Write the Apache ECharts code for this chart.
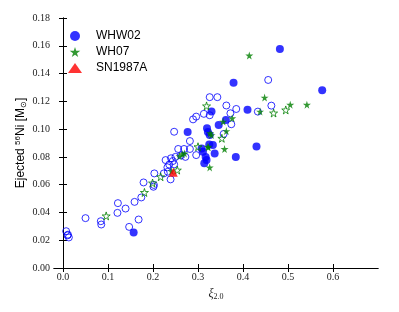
<!DOCTYPE html>
<html><head><meta charset="utf-8">
<script src="https://cdn.jsdelivr.net/npm/echarts@6/dist/echarts.min.js"></script>
<style>html,body{margin:0;padding:0;background:#fff}#c{width:399px;height:312px}</style>
</head><body><div id="c"></div>
<script>
const xTicks = [0, 0.1, 0.2, 0.3, 0.4, 0.5, 0.6];
const whw02Filled = [[0.157,0.0255],[0.277,0.098],[0.319,0.0777],[0.317,0.080],[0.311,0.0837],[0.308,0.0861],[0.333,0.0885],[0.337,0.0825],[0.322,0.098],[0.326,0.0957],[0.320,0.1006],[0.330,0.1126],[0.346,0.103],[0.362,0.1066],[0.384,0.080],[0.430,0.0875],[0.410,0.114],[0.379,0.1333],[0.482,0.1576],[0.576,0.128],[0.325,0.089],[0.314,0.0755]];
const whw02Open = [[0.007,0.0265],[0.010,0.0235],[0.013,0.022],[0.011,0.024],[0.050,0.0359],[0.084,0.0337],[0.085,0.0313],[0.122,0.0467],[0.121,0.0397],[0.139,0.0428],[0.147,0.0296],[0.168,0.0349],[0.159,0.0476],[0.174,0.0508],[0.179,0.0616],[0.201,0.0585],[0.202,0.0598],[0.203,0.0681],[0.224,0.0681],[0.228,0.0777],[0.232,0.0725],[0.236,0.0745],[0.239,0.0638],[0.233,0.0693],[0.240,0.0790],[0.244,0.0770],[0.247,0.0746],[0.256,0.0857],[0.269,0.0857],[0.282,0.0857],[0.282,0.0914],[0.247,0.0981],[0.296,0.0813],[0.296,0.109],[0.289,0.107],[0.313,0.111],[0.326,0.110],[0.326,0.123],[0.343,0.123],[0.363,0.117],[0.385,0.1145],[0.372,0.1114],[0.374,0.1035],[0.357,0.0965],[0.433,0.1126],[0.456,0.1354],[0.463,0.1169],[0.262,0.0810],[0.272,0.080],[0.250,0.080]];
const wh07Filled = [[0.241,0.0698],[0.259,0.0806],[0.265,0.082],[0.270,0.0825],[0.323,0.0869],[0.326,0.0724],[0.327,0.097],[0.330,0.0957],[0.359,0.0857],[0.363,0.0986],[0.356,0.1054],[0.376,0.1078],[0.414,0.153],[0.448,0.1227],[0.505,0.1176],[0.542,0.1176],[0.438,0.1126],[0.322,0.0873]];
const wh07Open = [[0.096,0.0375],[0.181,0.0544],[0.199,0.0612],[0.217,0.0657],[0.254,0.0705],[0.300,0.0873],[0.319,0.1167],[0.353,0.0934],[0.468,0.1116],[0.495,0.1138]];
const sn1987a = [[0.245,0.069]];

const STAR = 'path://M50,0 L61,35 L98,35 L68,57 L79,91 L50,70 L21,91 L32,57 L2,35 L39,35 Z';
const serif = 'Liberation Serif';
const sans = 'Liberation Sans';
const chart = echarts.init(document.getElementById('c'), null, {renderer:'canvas'});
const axLine = {show:true, lineStyle:{color:'#000', width:1}};
const tickCommon = {show:true, inside:true, length:4, lineStyle:{color:'#000', width:1}};
chart.setOption({
  animation:false,
  backgroundColor:'#fff',
  grid:{left:54, right:21, top:18, bottom:44, containLabel:false},
  legend:{
    orient:'vertical', left:63, top:25, itemWidth:14, itemHeight:10, itemGap:4,
    textStyle:{fontFamily:sans, fontSize:12, color:'#000', padding:[0,0,0,9]},
    data:['WHW02','WH07','SN1987A']
  },
  xAxis:[{
    type:'value', min:-0.02, max:0.70, position:'bottom',
    axisLine:axLine, splitLine:{show:false},
    axisTick:Object.assign({customValues:xTicks}, tickCommon),
    axisLabel:{customValues:xTicks, fontFamily:serif, fontSize:10, color:'#222', margin:4, formatter:v=>v.toFixed(1)},
    name:'{i|ξ}{s|2.0}', nameLocation:'middle', nameGap:19,
    nameTextStyle:{rich:{i:{fontFamily:serif, fontStyle:'italic', fontSize:12, color:'#222'}, s:{fontFamily:serif, fontSize:8, color:'#222', padding:[6,0,0,0]}}}
  },{
    type:'value', min:-0.02, max:0.70, position:'top',
    axisLine:axLine, splitLine:{show:false},
    axisTick:Object.assign({customValues:xTicks}, tickCommon),
    axisLabel:{show:false}
  }],
  yAxis:[{
    type:'value', min:0, max:0.18, interval:0.02, position:'left',
    axisLine:axLine, splitLine:{show:false}, axisTick:tickCommon,
    axisLabel:{fontFamily:serif, fontSize:10, color:'#222', margin:4, formatter:v=>v.toFixed(2)},
    name:'{a|Ejected }{s|56}{a|Ni [M}{o|⊙}{a|]}', nameLocation:'middle', nameGap:26, nameMoveOverlap:false,
    nameTextStyle:{rich:{a:{fontFamily:sans, fontSize:12, color:'#000'}, s:{fontFamily:sans, fontSize:8, color:'#000', padding:[0,0,6,0]}, o:{fontFamily:sans, fontSize:8, color:'#000', padding:[5,0,0,0]}}}
  },{
    type:'value', min:0, max:0.18, interval:0.02, position:'right',
    axisLine:axLine, splitLine:{show:false}, axisTick:tickCommon, axisLabel:{show:false}
  }],
  series:[
    {name:'WHW02o', type:'scatter', data:whw02Open, symbol:'circle', symbolSize:7, z:2,
      itemStyle:{color:'rgba(0,0,0,0)', borderColor:'#0000ff', borderWidth:1}},
    {name:'WHW02', type:'scatter', data:whw02Filled, symbol:'circle', symbolSize:8, z:3,
      itemStyle:{color:'#0000ff'}},
    {name:'WH07o', type:'scatter', data:wh07Open, symbol:STAR, symbolSize:8, z:4,
      itemStyle:{color:'rgba(0,0,0,0)', borderColor:'#008000', borderWidth:1}},
    {name:'WH07', type:'scatter', data:wh07Filled, symbol:STAR, symbolSize:8, z:5,
      itemStyle:{color:'#008000'}},
    {name:'SN1987A', type:'scatter', data:sn1987a, symbol:'triangle', symbolSize:9, z:6,
      itemStyle:{color:'#ff0000'}}
  ]
});
</script></body></html>
